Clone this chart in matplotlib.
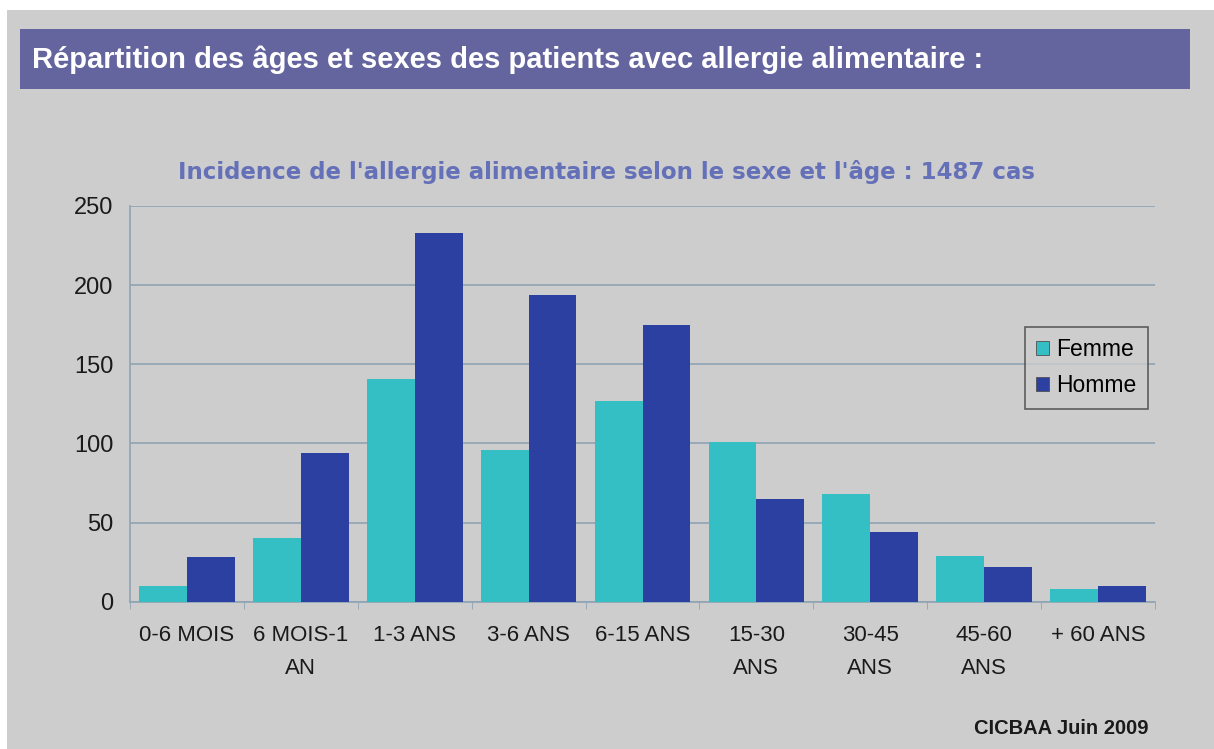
import matplotlib
matplotlib.use("Agg")
from matplotlib import pyplot as plt
from matplotlib.patches import Rectangle
import numpy as np

# data
categories = ["0-6 MOIS", "6 MOIS-1\nAN", "1-3 ANS", "3-6 ANS", "6-15 ANS",
              "15-30\nANS", "30-45\nANS", "45-60\nANS", "+ 60 ANS"]
femme = [10, 40, 141, 96, 127, 101, 68, 29, 8]
homme = [28, 94, 233, 194, 175, 65, 44, 22, 10]
yticks = [0, 50, 100, 150, 200, 250]

bg = "#cdcdcd"
c_femme = "#33bfc4"
c_homme = "#2b40a0"
grid_c = "#8ea4b4"

fig = plt.figure(figsize=(12.14, 7.49), dpi=100)
fig.patch.set_facecolor("white")

# gray slide background (white strip top and left)
fig.patches.append(Rectangle((7 / 1214, 0), 1 - 7 / 1214, 1 - 10 / 749,
                             transform=fig.transFigure, facecolor=bg,
                             edgecolor="none", zorder=-10))
# purple banner
fig.patches.append(Rectangle((20 / 1214, 1 - 89 / 749), 1170 / 1214, 60 / 749,
                             transform=fig.transFigure, facecolor="#64649e",
                             edgecolor="none", zorder=-5))
fig.text(32 / 1214, 1 - 60 / 749,
         "Répartition des âges et sexes des patients avec allergie alimentaire :",
         color="white", fontsize=21, fontweight="bold",
         family=["Liberation Sans", "DejaVu Sans"], va="center", ha="left")

ax = fig.add_axes([130 / 1214, 147.3 / 749, 1025 / 1214, 395.7 / 749])
ax.set_facecolor(bg)

x = np.arange(len(categories))
w = 0.42
ax.bar(x - w / 2, femme, width=w, color=c_femme, label="Femme", zorder=3)
ax.bar(x + w / 2, homme, width=w, color=c_homme, label="Homme", zorder=3)

ax.set_xlim(-0.5, len(categories) - 0.5)
ax.set_ylim(0, 250)
ax.set_yticks(yticks)
ax.yaxis.grid(True, color=grid_c, linewidth=1.2, zorder=0)
ax.set_axisbelow(True)

for s in ["top", "right"]:
    ax.spines[s].set_visible(False)
ax.spines["left"].set_color(grid_c)
ax.spines["bottom"].set_color(grid_c)
ax.spines["left"].set_linewidth(1.2)
ax.spines["bottom"].set_linewidth(1.2)

ax.set_xticks(np.arange(-0.5, len(categories)), minor=True)
ax.set_xticks(x)
ax.set_xticklabels(categories, fontsize=16, family="Liberation Sans",
                   linespacing=1.75, color="#1a1a1a")
ax.tick_params(axis="x", which="major", length=0, pad=17)
ax.tick_params(axis="x", which="minor", length=5, color=grid_c)
ax.tick_params(axis="y", length=0, pad=12, labelsize=17, labelcolor="#1a1a1a")
for lab in ax.get_yticklabels():
    lab.set_family("Liberation Sans")

leg = ax.legend(loc="upper left", bbox_to_anchor=(895 / 1025, 1 - 121 / 395.7),
                frameon=True, fancybox=False,
                prop={"family": "Liberation Sans", "size": 16.5},
                handlelength=0.55, handleheight=0.55, handletextpad=0.3,
                borderpad=0.5, labelspacing=0.55, borderaxespad=0)
leg.get_frame().set_facecolor(bg)
leg.get_frame().set_edgecolor("#404040")
leg.get_frame().set_linewidth(1.2)
for h in leg.legend_handles:
    h.set_edgecolor("#505050")
    h.set_linewidth(0.6)

fig.text(606 / 1214, 1 - 172 / 749,
         "Incidence de l'allergie alimentaire selon le sexe et l'âge : 1487 cas",
         color="#6470b8", fontsize=16.5, fontweight="bold",
         family="DejaVu Sans", ha="center", va="center")

fig.text(1148 / 1214, 1 - 729 / 749, "CICBAA Juin 2009", color="#1a1a1a",
         fontsize=14.5, fontweight="bold", family="Liberation Sans",
         ha="right", va="center")

fig.savefig("out.png", dpi=100)
